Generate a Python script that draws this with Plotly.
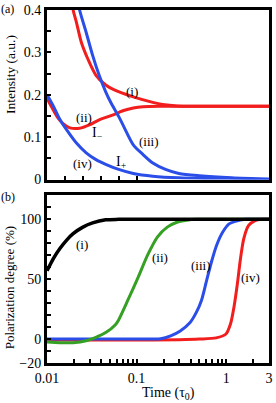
import math
import plotly.graph_objects as go

# ---------------- data ----------------
# panel (a): intensity vs time (tau0)
t_a1 = [0.0185, 0.01956, 0.0213, 0.02415, 0.0285, 0.0352, 0.0452, 0.0556, 0.0918, 0.1516, 0.1947, 0.2836, 0.5, 1.0, 3.0]
I_a1 = [0.43, 0.40, 0.371, 0.324, 0.285, 0.246, 0.223, 0.212, 0.195, 0.182, 0.177, 0.1735, 0.173, 0.173, 0.173]

t_a2 = [0.01, 0.01148, 0.0133, 0.0151, 0.0180, 0.0231, 0.0297, 0.0382, 0.0490, 0.0630, 0.0715, 0.0918, 0.118, 0.1947, 0.3, 0.5, 1.0, 3.0]
I_a2 = [0.192, 0.168, 0.145, 0.132, 0.122, 0.121, 0.129, 0.141, 0.149, 0.158, 0.163, 0.169, 0.172, 0.173, 0.173, 0.173, 0.173, 0.173]

t_a3 = [0.0218, 0.0231, 0.02737, 0.0323, 0.0382, 0.0452, 0.0512, 0.063, 0.0715, 0.0918, 0.118, 0.1516, 0.210, 0.296, 0.5, 1.15, 3.0]
I_a3 = [0.43, 0.40, 0.347, 0.293, 0.246, 0.207, 0.183, 0.149, 0.126, 0.082, 0.059, 0.039, 0.024, 0.0145, 0.009, 0.004, 0.001]

t_a4 = [0.01, 0.01186, 0.0140, 0.01659, 0.0213, 0.02737, 0.0352, 0.0452, 0.0630, 0.0918, 0.1516, 0.296, 1.15, 3.0]
I_a4 = [0.20, 0.172, 0.141, 0.117, 0.086, 0.063, 0.047, 0.036, 0.024, 0.0145, 0.008, 0.004, 0.0015, 0.001]

# panel (b): polarization degree (%) vs time
t_b1 = [0.01, 0.01186, 0.0140, 0.01659, 0.01957, 0.02516, 0.03227, 0.04518, 0.0630, 0.1, 1.0, 3.0]
P_b1 = [57, 67.7, 75.9, 82.7, 88, 93.5, 97, 99.6, 100, 100, 100, 100]

t_b2 = [0.01, 0.0140, 0.01957, 0.02737, 0.0351, 0.0452, 0.0580, 0.0630, 0.0810, 0.1039, 0.1333, 0.1712, 0.2197, 0.2819, 0.3618, 0.4643, 0.7, 1.0, 3.0]
P_b2 = [-2.5, -3, -3, -1.4, 1.4, 5.4, 12, 16, 33.5, 51.5, 70.5, 85.4, 93.5, 97.6, 99.2, 100, 100, 100, 100]

t_b3 = [0.01, 0.1, 0.185, 0.2397, 0.3067, 0.3927, 0.465, 0.5298, 0.6034, 0.6874, 0.783, 0.9145, 1.0752, 1.266, 1.622, 3.0]
P_b3 = [0, 0, 0.3, 2.7, 6.8, 13.6, 22.5, 32.5, 48.8, 65, 78.6, 89.4, 96.2, 98.4, 100, 100]

t_b4 = [0.01, 0.1, 0.3, 0.5, 0.7725, 0.9869, 1.1195, 1.222, 1.330, 1.445, 1.570, 1.779, 2.103, 2.489, 3.0]
P_b4 = [-0.8, -0.8, -0.5, 0, 1, 4, 13, 27, 46, 67.7, 84, 94.9, 99, 100, 100]

# tick labels
x_major = [0.01, 0.1, 1, 3]
x_major_text = ["0.01", "0.1", "1", "3"]
ya_major = [0, 0.1, 0.2, 0.3, 0.4]
ya_major_text = ["0", "0.1", "0.2", "0.3", "0.4"]
yb_major = [-20, 0, 50, 100]
yb_major_text = ["\u221220", "0", "50", "100"]

# ---------------- styling / layout ----------------
RED = "#f21d1d"
BLUE = "#2b4ee8"
GREEN = "#36a024"
FONT = "Liberation Serif, Times New Roman, DejaVu Serif, serif"
W, H = 276, 403
L, R, T, B = 47, 3, 7, 40


def px(x):
    return (x - L) / (W - L - R)


def py(y):
    return (H - B - y) / (H - T - B)


fig = go.Figure()


def add(t, v, color, width, xa, ya):
    fig.add_trace(go.Scatter(x=t, y=v, mode="lines", xaxis=xa, yaxis=ya,
                             line=dict(color=color, width=width, shape="spline", smoothing=0.8),
                             hoverinfo="skip", showlegend=False))


add(t_a1, I_a1, RED, 3, "x", "y")
add(t_a2, I_a2, RED, 3, "x", "y")
add(t_a3, I_a3, BLUE, 3, "x", "y")
add(t_a4, I_a4, BLUE, 3, "x", "y")

add(t_b4, P_b4, RED, 3, "x2", "y2")
add(t_b3, P_b3, BLUE, 3, "x2", "y2")
add(t_b2, P_b2, GREEN, 3, "x2", "y2")
add(t_b1, P_b1, "black", 3.5, "x2", "y2")

# tick positions
x_minor = []
for dec in [0.01, 0.1, 1]:
    for k in range(1, 10):
        v = round(k * dec, 6)
        if v <= 3.0001:
            x_minor.append(v)
x_text = [x_major_text[x_major.index(v)] if v in x_major else "" for v in x_minor]

xa_ticks = [10 ** (-2 + 0.2 * k) for k in range(1, 6)]

ya_ticks = [round(0.05 * k, 3) for k in range(0, 9)]
ya_text = [ya_major_text[ya_major.index(v)] if v in ya_major else "" for v in ya_ticks]
yb_ticks = list(range(-20, 121, 10))
yb_text = [yb_major_text[yb_major.index(v)] if v in yb_major else "" for v in yb_ticks]

axis_common = dict(showline=True, mirror=True, linewidth=3, linecolor="black",
                   ticks="inside", ticklen=4, tickwidth=2, tickcolor="black",
                   showgrid=False, zeroline=False, ticklabeloverflow="allow",
                   tickfont=dict(family=FONT, size=14, color="black"))

xr = [-2, math.log10(3)]
top_dom = [py(178), 1]
bot_dom = [0, py(194)]

fig.update_layout(
    width=W, height=H,
    margin=dict(l=L, r=R, t=T, b=B),
    paper_bgcolor="white", plot_bgcolor="white",
    font=dict(family=FONT, color="black"),
    xaxis=dict(type="log", range=xr, anchor="y", domain=[0, 1],
               tickmode="array", tickvals=xa_ticks, showticklabels=False, **axis_common),
    yaxis=dict(range=[0, 0.4], anchor="x", domain=top_dom,
               tickmode="array", tickvals=ya_ticks, ticktext=ya_text, **axis_common),
    xaxis2=dict(type="log", range=xr, anchor="y2", domain=[0, 1],
                tickmode="array", tickvals=x_minor, ticktext=x_text, **axis_common),
    yaxis2=dict(range=[-20, 120], anchor="x2", domain=bot_dom,
                tickmode="array", tickvals=yb_ticks, ticktext=yb_text, **axis_common),
)


def ann(x, y, text, size=13, angle=0):
    fig.add_annotation(x=px(x), y=py(y), xref="paper", yref="paper", text=text,
                       showarrow=False, xanchor="center", yanchor="middle", textangle=angle,
                       font=dict(family=FONT, size=size, color="black"))


# panel labels
ann(7, 6, "(a)", 12)
ann(7, 196, "(b)", 12)
# curve labels, panel (a)
ann(134, 89, "(i)")
ann(85, 115, "(ii)")
ann(98, 132, "I<sub>\u2212</sub>", 14)
ann(151, 140, "(iii)")
ann(83, 162, "(iv)")
ann(123, 161, "I<sub>+</sub>", 14)
# curve labels, panel (b)
ann(82.5, 243, "(i)")
ann(162.5, 257, "(ii)")
ann(204, 265, "(iii)")
ann(254, 277, "(iv)")
# axis titles
ann(10, 72, "Intensity (a.u.)", 13.5, -90)
ann(9, 287, "Polarization degree (%)", 13, -90)
ann(171, 394, "Time (\u03c4<sub>0</sub>)", 14)

fig.write_html("out.html", config={"displayModeBar": False, "staticPlot": True},
               post_script="document.body.style.margin='0';document.body.style.overflow='hidden';")
